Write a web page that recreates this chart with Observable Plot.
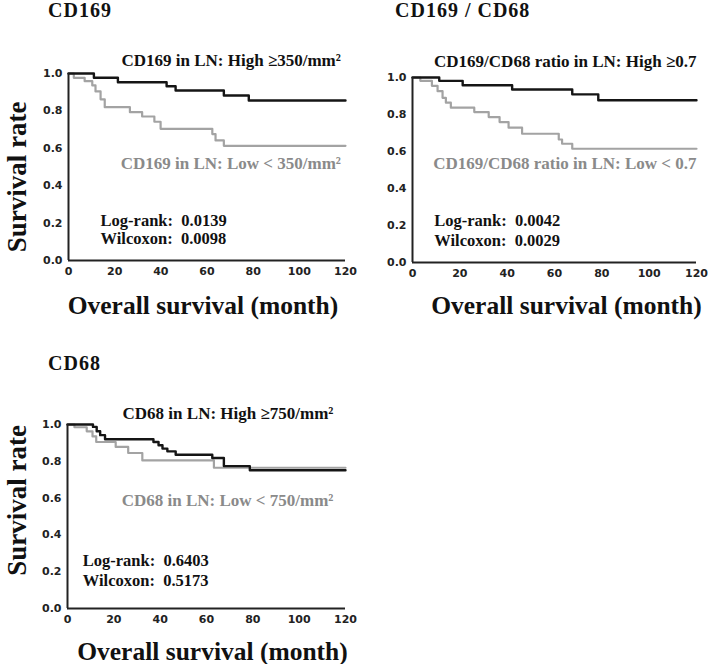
<!DOCTYPE html>
<html>
<head>
<meta charset="utf-8">
<script src="https://cdn.jsdelivr.net/npm/d3@7"></script>
<script src="https://cdn.jsdelivr.net/npm/@observablehq/plot@0.6"></script>
<style>
  html, body { margin: 0; padding: 0; background: #fff; }
  #root { position: relative; width: 709px; height: 664px; overflow: hidden; }
  .title { position: absolute; font-family: "Liberation Serif", serif; font-weight: bold; font-size: 20px; line-height: 20px; letter-spacing: 1px; color: #111; white-space: nowrap; }
  .panel { position: absolute; }
  .panel svg { display: block; overflow: visible; }
</style>
</head>
<body>
<div id="root"></div>
<script>
// ---- tick labels ----
const xTicks = [0, 20, 40, 60, 80, 100, 120];
const yTicks = [0, 0.2, 0.4, 0.6, 0.8, 1.0];

// ---- panel titles & labels ----
const titles = ["CD169", "CD169 / CD68", "CD68"];
const highLabels = ["CD169 in LN: High \u2265350/mm\u00B2", "CD169/CD68 ratio in LN: High \u22650.7", "CD68 in LN: High \u2265750/mm\u00B2"];
const lowLabels = ["CD169 in LN: Low < 350/mm\u00B2", "CD169/CD68 ratio in LN: Low < 0.7", "CD68 in LN: Low < 750/mm\u00B2"];
const logRank = ["0.0139", "0.0042", "0.6403"];
const wilcoxon = ["0.0098", "0.0029", "0.5173"];

// ---- CD169 curves (months, survival) ----
const cd169HighT = [0, 11, 21.4, 42.5, 46.4, 67.3, 78.1, 120];
const cd169HighS = [1, 0.977, 0.953, 0.932, 0.909, 0.882, 0.856, 0.856];
const cd169LowT = [0, 2.3, 7, 10.3, 11.7, 13.9, 15.7, 26.6, 31.9, 37.2, 39.9, 62.3, 63.7, 67.3, 120];
const cd169LowS = [1, 0.977, 0.959, 0.936, 0.904, 0.862, 0.82, 0.793, 0.77, 0.742, 0.704, 0.676, 0.642, 0.613, 0.613];

// ---- CD169/CD68 ratio curves ----
const ratioHighT = [0, 11.3, 21.2, 42.1, 67.5, 78.5, 120];
const ratioHighS = [1, 0.982, 0.958, 0.935, 0.909, 0.877, 0.877];
const ratioLowT = [0, 3.3, 8.2, 10.6, 12.7, 14.1, 16.2, 26.1, 32.2, 36.8, 40.6, 46.3, 61.8, 63.2, 67.5, 120];
const ratioLowS = [1, 0.982, 0.955, 0.926, 0.89, 0.864, 0.837, 0.813, 0.786, 0.759, 0.729, 0.696, 0.665, 0.642, 0.615, 0.615];

// ---- CD68 curves ----
const cd68HighT = [0, 11, 12.6, 14.1, 16.2, 37.1, 39.3, 41, 43.1, 46.7, 62.5, 67.5, 78.7, 120];
const cd68HighS = [1, 0.987, 0.963, 0.942, 0.92, 0.905, 0.887, 0.869, 0.854, 0.836, 0.818, 0.774, 0.751, 0.751];
const cd68LowT = [0, 3, 8.3, 10.8, 12.4, 20.8, 26.2, 32.3, 63.2, 120];
const cd68LowS = [1, 0.985, 0.963, 0.935, 0.905, 0.878, 0.845, 0.805, 0.765, 0.765];

const BLACK = "#151515";
const GRAY = "#a3a3a3";
const GRAYTEXT = "#8a8a8a";
const SERIF = "Liberation Serif";

function toPoints(T, S) { return T.map((t, i) => ({t, s: S[i]})); }

function makePanel(c) {
  const high = toPoints(c.highT, c.highS);
  const low = toPoints(c.lowT, c.lowS);
  const marks = [
    Plot.axisX({ticks: xTicks, tickSize: 0, tickPadding: 7, tickFormat: d => String(d), label: null, fill: "#222"}),
    Plot.axisY({ticks: yTicks, tickSize: 0, tickPadding: 6, tickFormat: d3.format(".1f"), label: null, fill: "#222"}),
    Plot.line(low, {x: "t", y: "s", curve: "step-after", stroke: GRAY, strokeWidth: 2.2}),
    Plot.line(high, {x: "t", y: "s", curve: "step-after", stroke: BLACK, strokeWidth: 2.4}),
    Plot.ruleX([0], {stroke: "#222", strokeWidth: 2}),
    Plot.ruleY([0], {stroke: "#222", strokeWidth: 2}),
    Plot.text([c.highLabel], {x: c.labelRight, y: c.highY, text: d => d, textAnchor: "end", lineAnchor: "middle", fontFamily: SERIF, fontWeight: "bold", fontSize: 17, fill: "#111"}),
    Plot.text([c.lowLabel], {x: c.labelRight, y: c.lowY, text: d => d, textAnchor: "end", lineAnchor: "middle", fontFamily: SERIF, fontWeight: "bold", fontSize: 17, fill: GRAYTEXT}),
    Plot.text(["Log-rank:\u00A0\u00A0" + c.logRank], {x: c.statX, y: c.logY, text: d => d, textAnchor: "start", lineAnchor: "middle", fontFamily: SERIF, fontWeight: "bold", fontSize: 16.5, fill: "#111"}),
    Plot.text(["Wilcoxon:\u00A0\u00A0" + c.wilcoxon], {x: c.statX, y: c.wilY, text: d => d, textAnchor: "start", lineAnchor: "middle", fontFamily: SERIF, fontWeight: "bold", fontSize: 16.5, fill: "#111"}),
    Plot.text(["Overall survival (month)"], {frameAnchor: "bottom", textAnchor: "middle", dx: c.xlabDx, dy: c.xlabDy, lineAnchor: "bottom", fontFamily: SERIF, fontWeight: "bold", fontSize: 25.5, fill: "#111"})
  ];
  if (c.ylabel) {
    marks.push(Plot.text(["Survival rate"], {frameAnchor: "left", textAnchor: "middle", rotate: -90, dx: c.ylabDx, dy: c.ylabDy, lineAnchor: "bottom", fontFamily: SERIF, fontWeight: "bold", fontSize: 27, fill: "#111"}));
  }
  return Plot.plot({
    width: c.width, height: c.height,
    marginLeft: c.ml, marginRight: c.mr, marginTop: c.mt, marginBottom: c.mb,
    x: {domain: [0, 120]},
    y: {domain: [0, 1]},
    style: {fontFamily: "DejaVu Sans", fontSize: "11px", fontWeight: "bold", background: "transparent", overflow: "visible"},
    marks
  });
}

const root = document.getElementById("root");
function place(el, left, top) {
  const d = document.createElement("div");
  d.className = "panel";
  d.style.left = left + "px"; d.style.top = top + "px";
  d.appendChild(el);
  root.appendChild(d);
}
function addTitle(text, left, top) {
  const t = document.createElement("div");
  t.className = "title";
  t.textContent = text;
  t.style.left = left + "px"; t.style.top = top + "px";
  root.appendChild(t);
}

// Panel 1: CD169
place(makePanel({
  width: 355, height: 290, ml: 68, mr: 10, mt: 33, mb: 70,
  highT: cd169HighT, highS: cd169HighS, lowT: cd169LowT, lowS: cd169LowS,
  highLabel: highLabels[0], lowLabel: lowLabels[0], logRank: logRank[0], wilcoxon: wilcoxon[0],
  labelRight: 118, highY: 1.07, lowY: 0.52, statX: 13.9, logY: 0.214, wilY: 0.118,
  xlabDx: -4, xlabDy: 53, ylabel: true, ylabDx: -43, ylabDy: 10
}), 0, 40);
addTitle(titles[0], 48, 0);

// Panel 2: CD169/CD68
place(makePanel({
  width: 354, height: 290, ml: 57, mr: 13, mt: 37, mb: 68,
  highT: ratioHighT, highS: ratioHighS, lowT: ratioLowT, lowS: ratioLowS,
  highLabel: highLabels[1], lowLabel: lowLabels[1], logRank: logRank[1], wilcoxon: wilcoxon[1],
  labelRight: 120, highY: 1.085, lowY: 0.535, statX: 9.2, logY: 0.226, wilY: 0.117,
  xlabDx: 12, xlabDy: 51, ylabel: false
}), 355, 40);
addTitle(titles[1], 395, 0);

// Panel 3: CD68
place(makePanel({
  width: 355, height: 294, ml: 67, mr: 10, mt: 54, mb: 56,
  highT: cd68HighT, highS: cd68HighS, lowT: cd68LowT, lowS: cd68LowS,
  highLabel: highLabels[2], lowLabel: lowLabels[2], logRank: logRank[2], wilcoxon: wilcoxon[2],
  labelRight: 114.8, highY: 1.062, lowY: 0.587, statX: 6.6, logY: 0.26, wilY: 0.151,
  xlabDx: 6, xlabDy: 51, ylabel: true, ylabDx: -42, ylabDy: -16
}), 0, 370);
addTitle(titles[2], 48, 353);
</script>
</body>
</html>
